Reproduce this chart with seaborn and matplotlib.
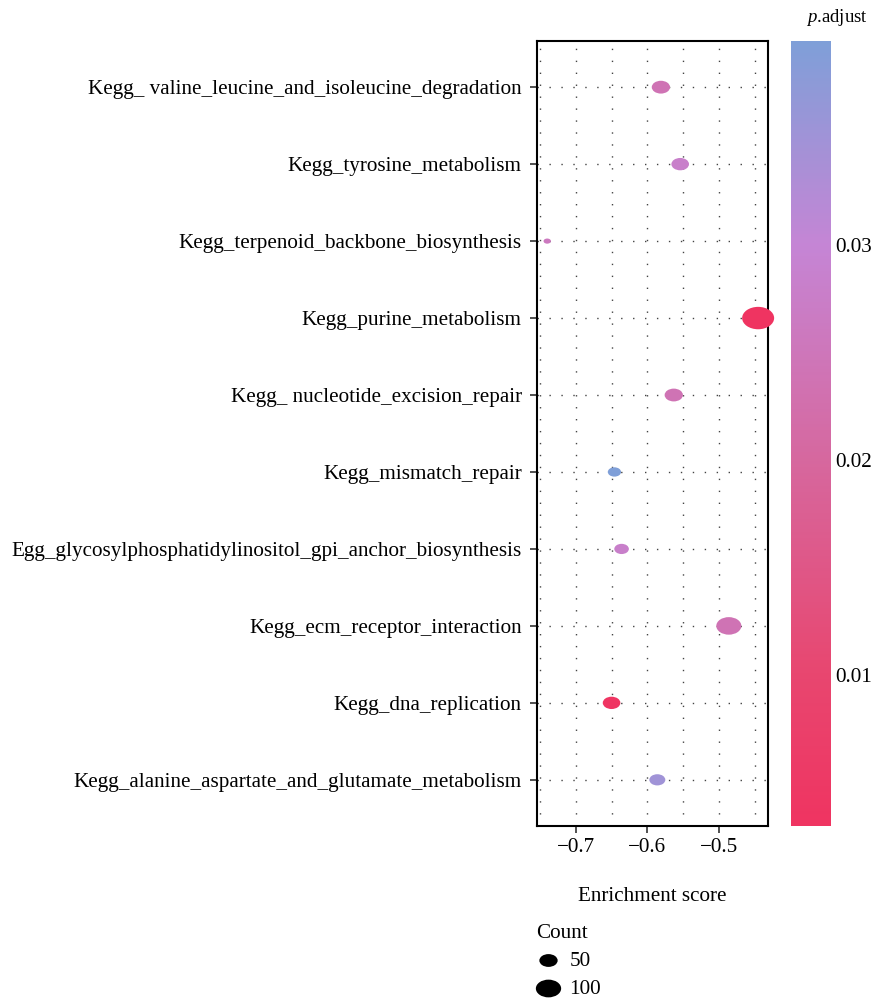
import matplotlib
matplotlib.use("Agg")
import matplotlib.pyplot as plt
import seaborn as sns
import pandas as pd
from matplotlib.path import Path
from matplotlib.transforms import Affine2D
from matplotlib.colors import LinearSegmentedColormap, Normalize
from matplotlib.cm import ScalarMappable
from matplotlib.ticker import MultipleLocator

# donnees (de haut en bas)
pathways = [
    "Kegg_ valine_leucine_and_isoleucine_degradation",
    "Kegg_tyrosine_metabolism",
    "Kegg_terpenoid_backbone_biosynthesis",
    "Kegg_purine_metabolism",
    "Kegg_ nucleotide_excision_repair",
    "Kegg_mismatch_repair",
    "Egg_glycosylphosphatidylinositol_gpi_anchor_biosynthesis",
    "Kegg_ecm_receptor_interaction",
    "Kegg_dna_replication",
    "Kegg_alanine_aspartate_and_glutamate_metabolism",
]
enrichment = [-0.581, -0.554, -0.740, -0.445, -0.563, -0.646, -0.636, -0.486, -0.650, -0.586]
counts = [50, 46, 4, 163, 50, 24, 30, 98, 46, 37]
p_adjust = [0.024, 0.028, 0.026, 0.003, 0.024, 0.0395, 0.028, 0.024, 0.0035, 0.035]

legend_counts = [50, 100]
cbar_ticks = [0.01, 0.02, 0.03]

df = pd.DataFrame({"pathway": pathways, "es": enrichment,
                   "count": counts, "padj": p_adjust})

sns.set_style("white")
plt.rcParams["font.family"] = ["Liberation Serif", "DejaVu Serif"]
plt.rcParams["mathtext.fontset"] = "custom"
plt.rcParams["mathtext.it"] = "Liberation Serif:italic"
plt.rcParams["mathtext.rm"] = "Liberation Serif"
plt.rcParams["font.size"] = 15
plt.rcParams["text.color"] = "black"
plt.rcParams["axes.labelcolor"] = "black"
plt.rcParams["xtick.color"] = "black"
plt.rcParams["ytick.color"] = "black"

fs = 15.2

# palette facon ggplot (rouge -> magenta -> violet -> bleu)
cmap = LinearSegmentedColormap.from_list("padj", [
    (0.0, "#EF3461"), (0.19, "#E8466F"), (0.47, "#D6689F"),
    (0.74, "#C585D5"), (1.0, "#7F9FD8")])
vmin, vmax = 0.003, 0.0395
norm = Normalize(vmin, vmax)

# marqueur elliptique (la figure d'origine etait etiree)
ellipse = Affine2D().scale(1, 0.7).transform_path(Path.unit_circle())
size_range = (15.5, 648)
size_norm = (0, 200)

def size_of(c):
    return size_range[0] + (size_range[1] - size_range[0]) * (c - size_norm[0]) / (size_norm[1] - size_norm[0])

fig = plt.figure(figsize=(8.75, 10), dpi=100)
ax = fig.add_axes([537 / 875, 0.174, 231 / 875, 0.785])
cax = fig.add_axes([791 / 875, 0.174, 40 / 875, 0.785])

sns.scatterplot(data=df, x="es", y="pathway", hue="padj", size="count",
                palette=cmap, hue_norm=norm, sizes=size_range, size_norm=size_norm,
                marker=ellipse, linewidth=0, clip_on=False, legend=False,
                ax=ax, zorder=3)

ax.set_xlim(-0.7543, -0.4312)
ax.set_ylim(len(pathways) - 1 + 0.6, -0.6)
ax.xaxis.set_major_locator(MultipleLocator(0.1))
ax.xaxis.set_minor_locator(MultipleLocator(0.05))
ax.set_xticklabels([f"{t:.1f}".replace("-", "\u2212") for t in ax.get_xticks()])
ax.grid(True, which="major", axis="both", color="#444444", linestyle=(0, (1, 7.6)), linewidth=1)
ax.grid(True, which="minor", axis="x", color="#444444", linestyle=(0, (1, 7.6)), linewidth=1)
ax.set_axisbelow(True)
for s in ax.spines.values():
    s.set_color("black")
    s.set_linewidth(1.5)
ax.tick_params(axis="both", which="major", length=5, width=1.2, color="#333333",
               bottom=True, left=True, labelsize=fs, pad=4)
ax.tick_params(axis="y", pad=6)
ax.tick_params(axis="x", which="minor", length=0)
ax.set_ylabel("")
ax.set_xlabel("Enrichment score", fontsize=fs, labelpad=21)

# barre de couleur
cb = fig.colorbar(ScalarMappable(norm=norm, cmap=cmap), cax=cax, ticks=cbar_ticks)
cb.outline.set_visible(False)
cax.tick_params(left=True, right=True, direction="in", color="white",
                length=7, width=1, labelsize=fs, pad=3)
cax.set_yticklabels([f"{t:.2f}" for t in cbar_ticks])
fig.text(806 / 875, 1 - 18 / 1000, r"$\mathit{p}$.adjust", fontsize=13.5,
         ha="left", va="center")

# legende des tailles
handles = [ax.scatter([], [], s=size_of(c), marker=ellipse, color="black", linewidths=0)
           for c in legend_counts]
leg = fig.legend(handles, [str(c) for c in legend_counts], title="Count",
                 loc="upper left", bbox_to_anchor=(526 / 875, 1 - 913 / 1000),
                 frameon=False, alignment="left", fontsize=fs, title_fontsize=fs,
                 handlelength=1.1, handletextpad=0.45, labelspacing=0.4, borderpad=0)

fig.savefig("out.png", dpi=100, facecolor="white")
